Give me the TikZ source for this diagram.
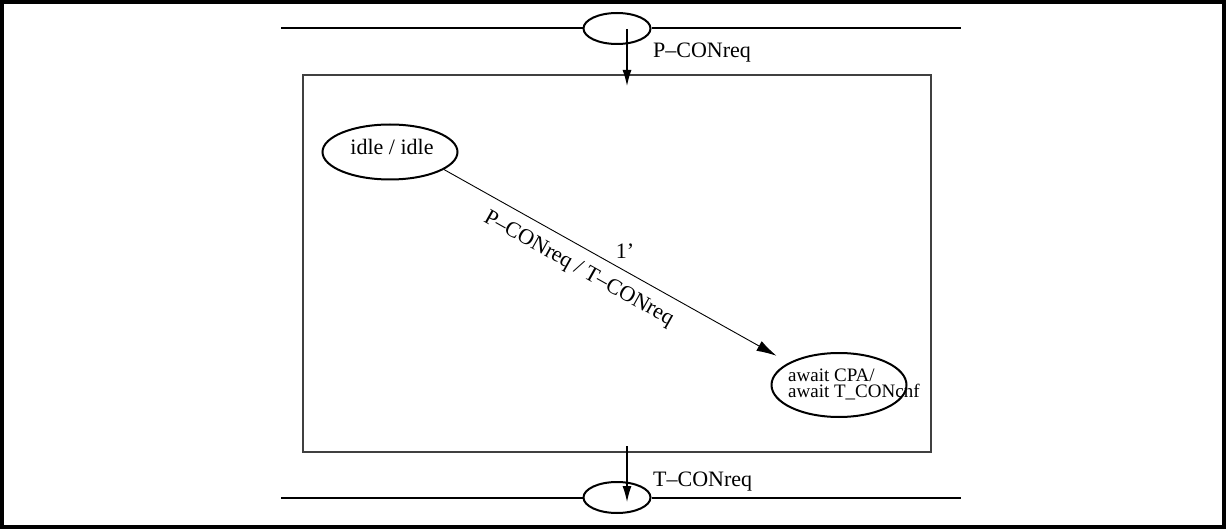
\documentclass[tikz,border=0pt]{standalone}
\usepackage{fontspec}
\setmainfont{Liberation Serif}
\usetikzlibrary{shapes.geometric,arrows.meta}
\tikzset{
  state/.style={ellipse, draw, line width=2pt, inner sep=0pt},
  port/.style={ellipse, draw, line width=2pt, inner sep=0pt, minimum width=67pt, minimum height=31pt},
  busline/.style={line width=2pt},
  flow/.style={line width=1.2pt, -{Latex[length=16pt,width=9pt]}},
  trans/.style={line width=0.9pt, -{Latex[length=20pt,width=11pt]}},
  lbl/.style={font=\fontsize{22}{26}\selectfont, inner sep=0pt},
}
\begin{document}
\begin{tikzpicture}[x=1pt,y=-1pt]
\useasboundingbox (0,0) rectangle (1226,529);
% outer frame
\draw[line width=4pt] (2,2) rectangle (1224,527);
% inner box
\node[draw=black!75, line width=1.2pt, minimum width=628pt, minimum height=377pt, inner sep=0pt] (box) at (617,263.5) {};
% top bus
\node[port] (pt) at (617,28.5) {};
\coordinate (tl) at (281,28.5);
\coordinate (tr) at (961,28.5);
\draw[busline] (tl) -- (pt.west);
\draw[busline] (pt.east) -- (tr);
\coordinate (a1) at (627,29);
\coordinate (a2) at (627,86);
\draw[flow] (a1) -- (a2);
\node[lbl, anchor=west] (ptxt) at (653,53) {P--CONreq};
% bottom bus
\node[port] (pb) at (617,497.5) {};
\coordinate (bl) at (281,497.5);
\coordinate (br) at (961,497.5);
\draw[busline] (bl) -- (pb.west);
\draw[busline] (pb.east) -- (br);
\coordinate (b1) at (627,446);
\coordinate (b2) at (627,502);
\draw[flow] (b1) -- (b2);
\node[lbl, anchor=west] (btxt) at (653,482) {T--CONreq};
% states
\node[state, minimum width=135pt, minimum height=55pt] (idle) at (390,152) {};
\node[lbl] (idletxt) at (392,147) {idle / idle};
\node[state, minimum width=135pt, minimum height=64pt] (await) at (839,385) {};
\node[font=\fontsize{19}{15.5}\selectfont, align=left, anchor=west, inner sep=0pt] (awaittxt) at (788,384.5) {await CPA/\\await T\_CONcnf};
% transition
\draw[trans, shorten >=14pt] (idle.-18) -- (await.156)
  node[lbl, pos=0.42, sloped, below=11pt] (tlab) {P--CONreq / T--CONreq};
\node[lbl] (one) at (625,251) {1'};
\end{tikzpicture}
\end{document}
